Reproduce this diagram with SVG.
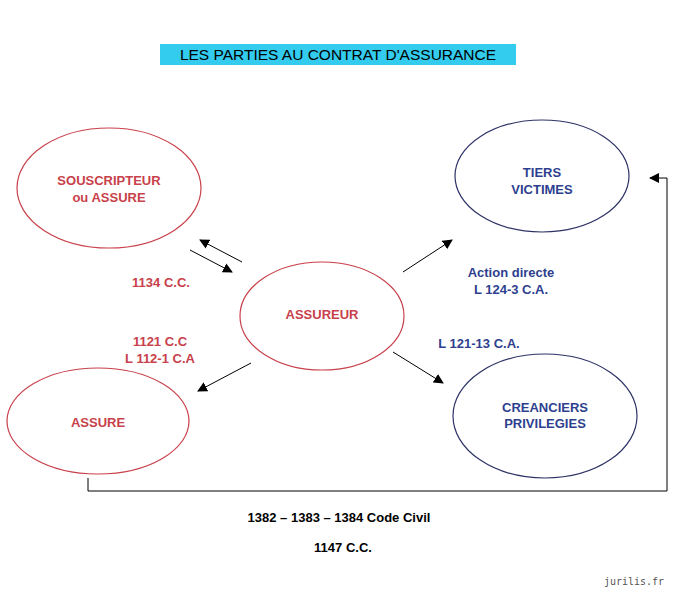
<svg xmlns="http://www.w3.org/2000/svg" width="690" height="600" viewBox="0 0 690 600">
<defs><marker id="a" viewBox="0 0 10 10" refX="9" refY="5" markerWidth="10" markerHeight="10" markerUnits="userSpaceOnUse" orient="auto"><path d="M0,0L10,5L0,10z" fill="#000"/></marker></defs>
<style>
text{font-family:"Liberation Sans",Arial,sans-serif;font-weight:bold;font-size:13px;text-anchor:middle}
.r{fill:#c8414b}.b{fill:#2e3f8f}
.er{fill:none;stroke:#c8414b;stroke-width:1.2}.eb{fill:none;stroke:#2e3366;stroke-width:1.2}
.c{stroke:#000;stroke-width:1;fill:none}
</style>
<rect width="690" height="600" fill="#fff"/>
<rect x="160" y="44" width="356" height="21" fill="#33ccee"/>
<text x="338" y="60" style="font-weight:normal;font-size:15.5px" fill="#000">LES PARTIES AU CONTRAT D'ASSURANCE</text>
<g id="souscripteur"><ellipse class="er" cx="109" cy="188" rx="92" ry="60"/><text class="r" x="109" y="185">SOUSCRIPTEUR</text><text class="r" x="109" y="202">ou ASSURE</text></g>
<g id="tiers"><ellipse class="eb" cx="542" cy="176" rx="87" ry="56"/><text class="b" x="542" y="177">TIERS</text><text class="b" x="542" y="194">VICTIMES</text></g>
<g id="assureur"><ellipse class="er" cx="322" cy="316" rx="82" ry="54"/><text class="r" x="322" y="319">ASSUREUR</text></g>
<g id="assure"><ellipse class="er" cx="98" cy="421" rx="91" ry="53"/><text class="r" x="98" y="427">ASSURE</text></g>
<g id="creanciers"><ellipse class="eb" cx="545" cy="416" rx="92" ry="62"/><text class="b" x="545" y="412">CREANCIERS</text><text class="b" x="545" y="428">PRIVILEGIES</text></g>
<g id="connectors">
<line class="c" x1="242" y1="262" x2="200" y2="240" marker-end="url(#a)"/>
<line class="c" x1="190" y1="250" x2="232" y2="272" marker-end="url(#a)"/>
<line class="c" x1="251" y1="363" x2="198" y2="391" marker-end="url(#a)"/>
<line class="c" x1="393" y1="352" x2="443" y2="383" marker-end="url(#a)"/>
<line class="c" x1="403" y1="272" x2="452" y2="240" marker-end="url(#a)"/>
<polyline class="c" points="88,478 88,491 667,491 667,178 650,178" marker-end="url(#a)"/>
</g>
<text class="r" x="161" y="287">1134 C.C.</text>
<text class="r" x="160" y="346">1121 C.C</text>
<text class="r" x="160" y="363">L 112-1 C.A</text>
<text class="b" x="511" y="277">Action directe</text>
<text class="b" x="511" y="294">L 124-3 C.A.</text>
<text class="b" x="479" y="348">L 121-13 C.A.</text>
<text x="339" y="522" fill="#000">1382 – 1383 – 1384 Code Civil</text>
<text x="343" y="552" fill="#000">1147 C.C.</text>
<text x="634" y="585" style="font-family:'DejaVu Sans Mono',monospace;font-weight:normal;font-size:10px" fill="#555">jurilis.fr</text>
</svg>
